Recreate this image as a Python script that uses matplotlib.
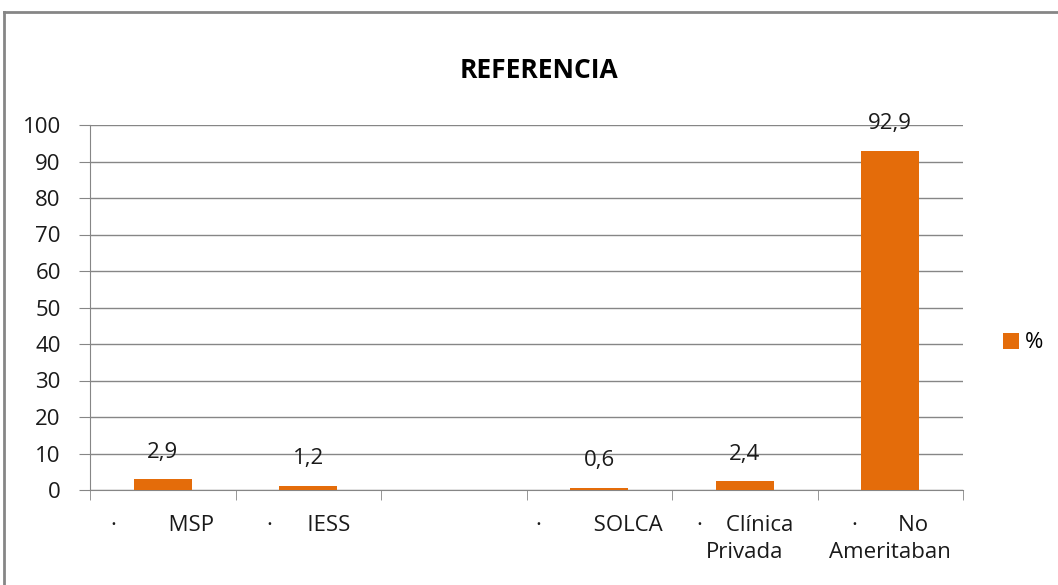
import numpy as np
from matplotlib import pyplot as plt

# Data
categories = ['·         MSP', '·      IESS', '', '·         SOLCA', '·    Clínica\nPrivada', '·       No\nAmeritaban']
values = [2.9, 1.2, np.nan, 0.6, 2.4, 92.9]
yticks = [0, 10, 20, 30, 40, 50, 60, 70, 80, 90, 100]

orange = '#E46C0A'
grey = '#868686'

plt.rcParams['font.family'] = ['Open Sans', 'DejaVu Sans']

fig = plt.figure(figsize=(10.58, 5.85), dpi=100)
ax = fig.add_axes([90/1058, 1 - 490/585, (963 - 90)/1058, (490 - 125)/585])

x = np.arange(len(categories))
ax.bar(x, values, width=0.4, color=orange, label='%', zorder=3)

for xi, v in zip(x, values):
    if not np.isnan(v):
        ax.annotate(('%.1f' % v).replace('.', ','), (xi, v), xytext=(0, 12),
                    textcoords='offset points', ha='center', va='bottom', fontsize=16, color='#1a1a1a')

ax.set_xlim(-0.5, len(categories) - 0.5)
ax.set_ylim(0, 100)
ax.set_yticks(yticks)
ax.set_yticklabels([str(t) for t in yticks], fontsize=16, color='#1a1a1a')
ax.yaxis.grid(True, color=grey, linewidth=1, zorder=0)
ax.set_axisbelow(True)

# category labels under each slot, ticks on the boundaries
ax.set_xticks(x)
ax.set_xticklabels(categories, fontsize=16, linespacing=1.4, color='#1a1a1a')
ax.tick_params(axis='x', length=0, pad=18)
ax.set_xticks(np.arange(-0.5, len(categories)), minor=True)
ax.tick_params(axis='x', which='minor', length=7, color=grey)
ax.tick_params(axis='y', length=8, color=grey, pad=13)

for s in ['top', 'right']:
    ax.spines[s].set_visible(False)
for s in ['left', 'bottom']:
    ax.spines[s].set_color(grey)

fig.text(539/1058, 1 - 70/585, 'REFERENCIA', ha='center', va='center', fontsize=19, fontweight='bold')

ax.legend(loc='center left', bbox_to_anchor=(1003/1058, 1 - 343/585), bbox_transform=fig.transFigure,
          frameon=False, fontsize=16, handlelength=0.7, handleheight=0.7, handletextpad=0.3, borderaxespad=0,
          borderpad=0)

# outer chart border (cut off at right and bottom like the reference)
fig.add_artist(plt.Line2D([4/1058, 4/1058], [0, 1 - 12/585], color=grey, linewidth=2, transform=fig.transFigure))
fig.add_artist(plt.Line2D([4/1058, 1], [1 - 12/585, 1 - 12/585], color=grey, linewidth=2, transform=fig.transFigure))

plt.savefig('out.png', dpi=100)
